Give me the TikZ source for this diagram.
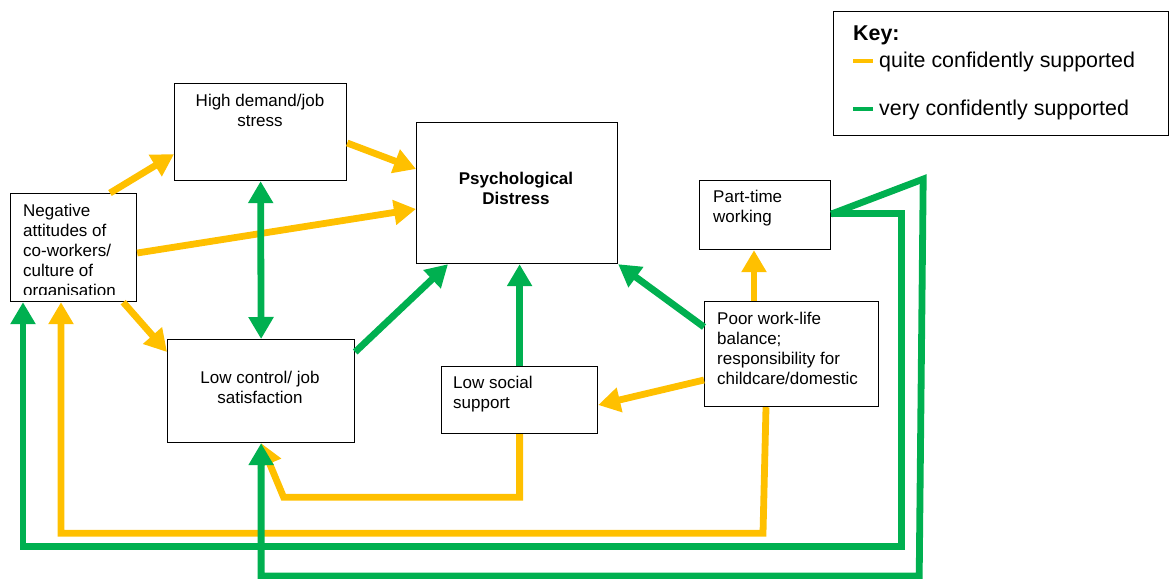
\documentclass[tikz,border=0pt]{standalone}
\usepackage{fontspec}
\setmainfont{Liberation Sans}
\usetikzlibrary{arrows.meta}
\definecolor{quiteorange}{HTML}{FFC000}
\definecolor{verygreen}{HTML}{00B050}

\begin{document}
\begin{tikzpicture}[x=1pt,y=-1pt,>={Triangle[length=22pt,width=24pt]},line join=miter,
  box/.style={draw,line width=1.2pt,anchor=north west,inner sep=0pt},
  txt/.style={inner sep=0pt,font=\fontsize{17}{20}\selectfont},
  keytxt/.style={inner sep=0pt,font=\fontsize{21.4}{24}\selectfont},
  quite/.style={draw=quiteorange,line width=6.8pt,->},
  very/.style={draw=verygreen,line width=6.8pt,->}]
  \useasboundingbox (0,0) rectangle (1172,578);

  \node[box,minimum width=126pt,minimum height=108pt] (neg) at (10,193) {};
  \node[box,minimum width=172pt,minimum height=97pt] (hd) at (174,83) {};
  \node[box,minimum width=201pt,minimum height=141pt] (psych) at (416,122) {};
  \node[box,minimum width=187pt,minimum height=103pt] (lc) at (167,339) {};
  \node[box,minimum width=156pt,minimum height=67pt] (ls) at (441,366) {};
  \node[box,minimum width=131pt,minimum height=69pt] (pt) at (699,180) {};
  \node[box,minimum width=174pt,minimum height=105pt] (pw) at (704,301) {};
  \node[box,minimum width=335pt,minimum height=124pt] (key) at (833,11) {};

  \begin{scope}
    \clip (neg.north west) rectangle ([yshift=8pt]neg.south east);
    \node[txt,align=left,anchor=north west] (negtxt) at (23,204) {Negative\\attitudes of\\co-workers/\\culture of\\organisation};
  \end{scope}
  \node[txt,align=center,anchor=north] (hdtxt) at (260,94) {High demand/job\\stress};
  \node[txt,align=center,anchor=north,font=\fontsize{17}{20}\selectfont\bfseries] (psychtxt) at (516,172) {Psychological\\Distress};
  \node[txt,align=center,anchor=north] (lctxt) at (260,371) {Low control/ job\\satisfaction};
  \node[txt,align=left,anchor=north west] (lstxt) at (453,376) {Low social\\support};
  \node[txt,align=left,anchor=north west] (pttxt) at (713,190) {Part-time\\working};
  \node[txt,align=left,anchor=north west] (pwtxt) at (717,312) {Poor work-life\\balance;\\responsibility for\\childcare/domestic};

  \node[keytxt,font=\fontsize{21.4}{24}\selectfont\bfseries,anchor=base west] (keyhead) at (853,41) {Key:};
  \draw[quiteorange,line width=4pt] (853,61) -- (873,61);
  \node[keytxt,anchor=base west] (keyquite) at (879,67) {quite confidently supported};
  \draw[verygreen,line width=4pt] (853,109) -- (873,109);
  \node[keytxt,anchor=base west] (keyvery) at (879,115) {very confidently supported};

  \draw[quite] ([xshift=100pt]neg.north west) -- ([yshift=27pt]hd.south west);
  \draw[quite] ([yshift=-60pt]hd.north east) -- ([yshift=-47pt]psych.north west);
  \draw[quite] ([yshift=-60pt]neg.north east) -- ([yshift=-87pt]psych.north west);
  \draw[quite] ([xshift=-14pt]neg.south east) -- ([yshift=-13pt]lc.north west);
  \draw[quite] ([xshift=50pt]pw.north west) -- ([xshift=50pt]pw.north west |- pt.south);
  \draw[quite] ([yshift=-79pt]pw.north west) -- ([yshift=-39pt]ls.north east);
  \draw[quite] (ls.south) -- ++(0,63) -- ++(-236,0) -- (lc.south);
  \draw[quite] ([xshift=62pt]pw.south west) -- ++(-3,126) -| ([xshift=51pt]neg.south west);

  \draw[very,<->] (hd.south) -- (lc.north);
  \draw[very] ([yshift=-13pt]lc.north east) -- ([xshift=32pt]psych.south west);
  \draw[very] (ls.north) -- (ls.north |- psych.south);
  \draw[very] ([yshift=-26pt]pw.north west) -- (psych.south east);
  \draw[very] ([yshift=2pt]pt.east) -- ++(70,0) -- ++(0,333) -| ([xshift=13pt]neg.south west);
  \draw[very] ([yshift=1pt]pt.east) -- ++(92,-35) -- ++(-4,397) -| (lc.south);
\end{tikzpicture}
\end{document}
